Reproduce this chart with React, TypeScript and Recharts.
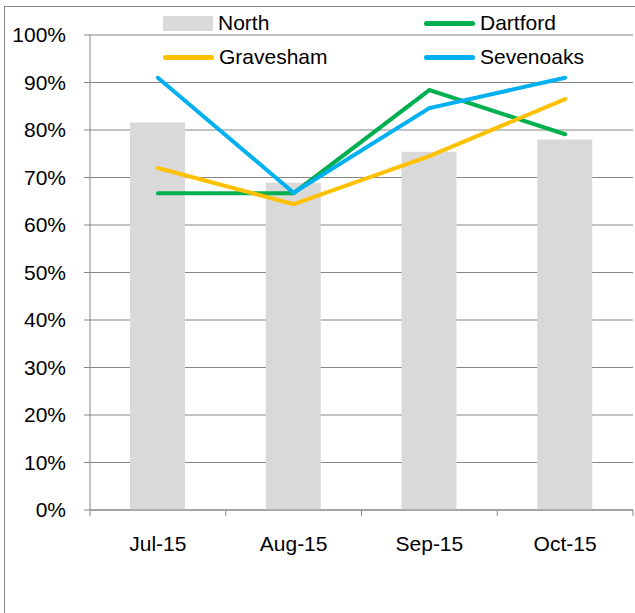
import React from "react";
import { ComposedChart, Bar, Line, XAxis, YAxis, CartesianGrid } from "recharts";

const months = ["Jul-15", "Aug-15", "Sep-15", "Oct-15"];
const north = [0.816, 0.689, 0.754, 0.78];
const dartford = [0.667, 0.667, 0.884, 0.791];
const gravesham = [0.72, 0.644, 0.745, 0.865];
const sevenoaks = [0.91, 0.668, 0.846, 0.91];
const yTicks = [0, 0.1, 0.2, 0.3, 0.4, 0.5, 0.6, 0.7, 0.8, 0.9, 1];

const data = months.map((m, i) => ({
  month: m,
  North: north[i],
  Dartford: dartford[i],
  Gravesham: gravesham[i],
  Sevenoaks: sevenoaks[i],
}));

const FONT = "'Liberation Sans', Arial, sans-serif";
const GRID = "#868686";
const COLORS = {
  North: "#d9d9d9",
  Dartford: "#00b050",
  Gravesham: "#ffc000",
  Sevenoaks: "#00b0f0",
};

const W = 635;
const H = 613;
const LEFT = 90;
const RIGHT = 2;
const BAND = (W - LEFT - RIGHT) / months.length;

function XTick(props: any) {
  const { x, y, index } = props;
  const left = x - BAND / 2;
  return (
    <g>
      <line x1={left} x2={left} y1={y - 8} y2={y - 2} stroke={GRID} />
      {index === months.length - 1 && (
        <line x1={left + BAND} x2={left + BAND} y1={y - 8} y2={y - 2} stroke={GRID} />
      )}
      <text x={x} y={y + 33} textAnchor="middle" fontSize={21} fontFamily={FONT} fill="#000">
        {props.payload.value}
      </text>
    </g>
  );
}

function LegendItem({ name, x, y, bar }: { name: keyof typeof COLORS; x: number; y: number; bar?: boolean }) {
  return (
    <div style={{ position: "absolute", left: x, top: y, display: "flex", alignItems: "center", height: 24 }}>
      {bar ? (
        <div style={{ width: 50, height: 15, background: COLORS[name] }} />
      ) : (
        <div style={{ width: 51, height: 5, borderRadius: 3, background: COLORS[name] }} />
      )}
      <span style={{ marginLeft: 5, fontSize: 21, fontFamily: FONT, color: "#000", lineHeight: "24px" }}>{name}</span>
    </div>
  );
}

export default function App() {
  return (
    <div style={{ position: "absolute", left: 0, top: 0, width: W, height: H, overflow: "hidden", background: "#fff" }}>
      <div
        style={{
          position: "absolute",
          left: 4,
          top: 6,
          width: W + 10,
          height: H + 10,
          border: "1px solid #898989",
          boxSizing: "border-box",
        }}
      />
      <div style={{ position: "absolute", left: 0, top: 0 }}>
        <ComposedChart
          width={W}
          height={H}
          data={data}
          margin={{ top: 35, right: RIGHT, left: 0, bottom: 73 }}
          barSize={55}
        >
          <CartesianGrid vertical={false} stroke={GRID} strokeWidth={1} />
          <XAxis
            dataKey="month"
            axisLine={{ stroke: GRID }}
            tickLine={false}
            tick={<XTick />}
            height={30}
            interval={0}
          />
          <YAxis
            width={LEFT}
            domain={[0, 1]}
            ticks={yTicks}
            axisLine={{ stroke: GRID }}
            tickLine={{ stroke: GRID }}
            tickSize={6}
            tickMargin={18}
            tickFormatter={(v: number) => `${Math.round(v * 100)}%`}
            tick={{ fontSize: 21, fontFamily: FONT, fill: "#000" }}
            interval={0}
          />
          <Bar dataKey="North" fill={COLORS.North} isAnimationActive={false} />
          <Line type="linear" dataKey="Dartford" stroke={COLORS.Dartford} strokeWidth={4} strokeLinecap="round" dot={false} isAnimationActive={false} />
          <Line type="linear" dataKey="Gravesham" stroke={COLORS.Gravesham} strokeWidth={4} strokeLinecap="round" dot={false} isAnimationActive={false} />
          <Line type="linear" dataKey="Sevenoaks" stroke={COLORS.Sevenoaks} strokeWidth={4} strokeLinecap="round" dot={false} isAnimationActive={false} />
        </ComposedChart>
      </div>
      <LegendItem name="North" x={163} y={11} bar />
      <LegendItem name="Dartford" x={424} y={11} />
      <LegendItem name="Gravesham" x={163} y={45} />
      <LegendItem name="Sevenoaks" x={424} y={45} />
    </div>
  );
}
